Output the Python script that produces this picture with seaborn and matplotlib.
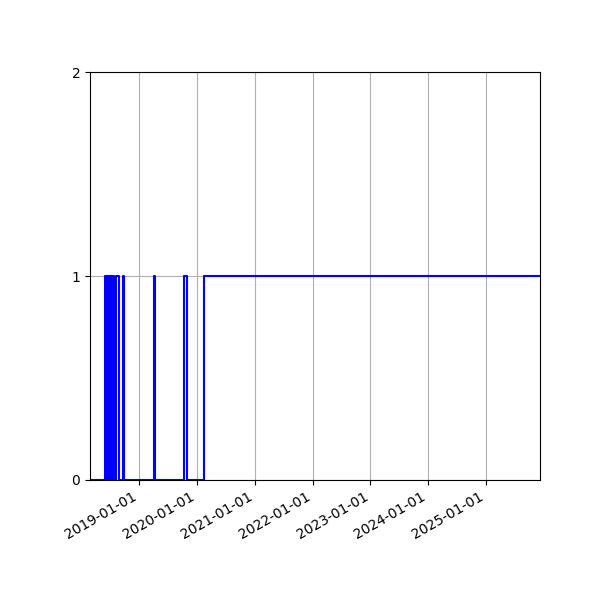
import pandas as pd
import matplotlib
matplotlib.use("Agg")
import matplotlib.pyplot as plt
import matplotlib.dates as mdates
import seaborn as sns

# state changes (step-post)
dates = [
    "2018-02-26", "2018-05-31", "2018-06-07", "2018-06-10", "2018-06-19",
    "2018-06-22", "2018-07-02", "2018-07-05", "2018-07-15", "2018-07-18",
    "2018-07-27", "2018-08-09", "2018-08-26", "2018-09-22", "2018-10-01",
    "2019-04-03", "2019-04-12", "2019-10-15", "2019-11-03",
    "2020-02-15", "2025-12-07",
]
states = [0, 1, 0, 1, 0, 1, 0, 1, 0, 1, 0, 1, 0, 1, 0, 1, 0, 1, 0, 1, 1]

df = pd.DataFrame({"date": pd.to_datetime(dates), "state": states})

fig, ax = plt.subplots(figsize=(6, 6), dpi=100)
sns.lineplot(data=df, x="date", y="state", color="blue", linewidth=1.5,
             drawstyle="steps-post", ax=ax)

ax.set_xlim(df["date"].min(), df["date"].max())
ax.set_ylim(0, 2)
ax.set_yticks([0, 1, 2])
ax.xaxis.set_major_locator(mdates.YearLocator())
ax.xaxis.set_major_formatter(mdates.DateFormatter("%Y-%m-%d"))
ax.grid(True)
ax.set_xlabel("")
ax.set_ylabel("")
fig.autofmt_xdate()
fig.subplots_adjust(left=0.15, right=0.9, top=0.88, bottom=0.2)

fig.savefig("out.png")
